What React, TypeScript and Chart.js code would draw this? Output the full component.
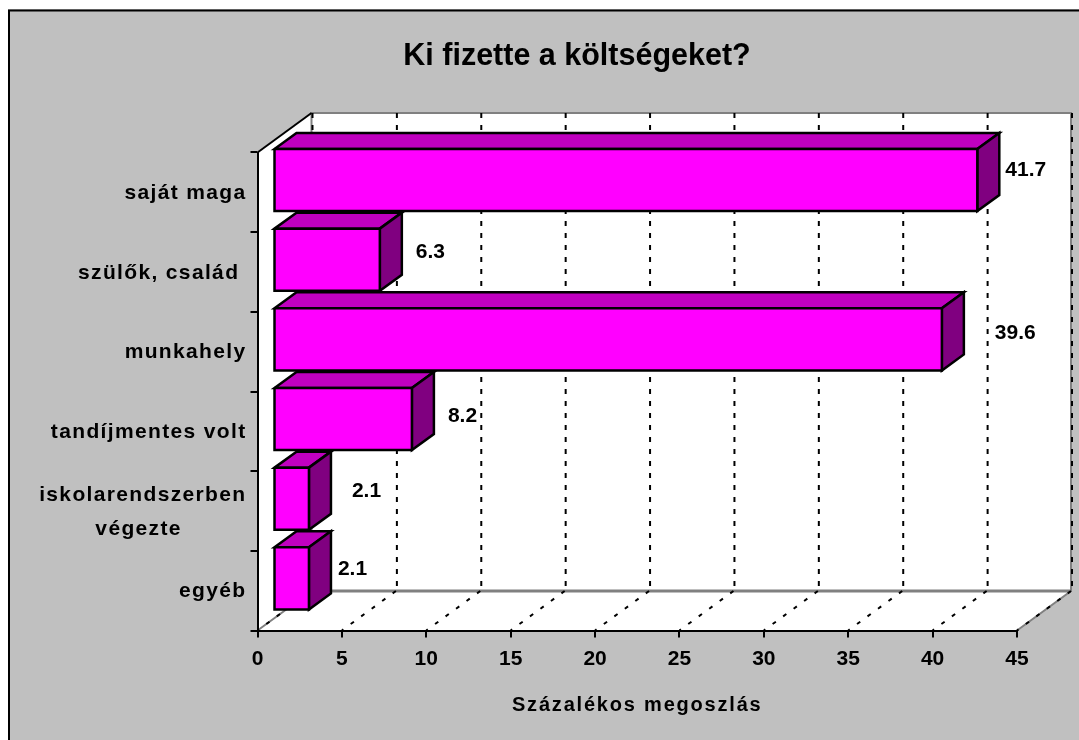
import React, { useEffect, useRef } from "react";
import { Chart, registerables } from "chart.js";

Chart.register(...registerables);

const categories = [
  "saját maga",
  "szülők, család ",
  "munkahely",
  "tandíjmentes volt",
  ["iskolarendszerben", "végezte         "],
  "egyéb",
];
const shares = [41.7, 6.3, 39.6, 8.2, 2.1, 2.1];
const axisTicks = [0, 5, 10, 15, 20, 25, 30, 35, 40, 45];
const titleText = "Ki fizette a költségeket?";
const axisTitle = "Százalékos megoszlás";

const FONT = "'Liberation Sans', Arial, sans-serif";
const WALL = { dx: 54, dy: -39.5 };
const BAR_INSET = { dx: 16, dy: -12.3 };
const BAR_DEPTH = { dx: 22, dy: -16 };
const LABEL_NUDGE = [
  [28, -10],
  [36, -7],
  [53, -6],
  [36, -3],
  [43, -7],
  [29, -9],
];
const EDGE = 2.5;

function poly(ctx: CanvasRenderingContext2D, pts: number[][], fill?: string, stroke?: string, lw = 2) {
  ctx.beginPath();
  pts.forEach((p, i) => (i ? ctx.lineTo(p[0], p[1]) : ctx.moveTo(p[0], p[1])));
  if (fill) {
    ctx.closePath();
    ctx.fillStyle = fill;
    ctx.fill();
  }
  if (stroke) {
    ctx.strokeStyle = stroke;
    ctx.lineWidth = lw;
    ctx.stroke();
  }
}

const spacing = (scale: any, labels: string, title: string) => {
  if (scale.__spaced) return;
  scale.__spaced = true;
  // the labels run to the left of the narrowed axis box, so its clip is dropped
  scale._computeLabelArea = () => undefined;
  const wrap = (fn: string, px: string) => {
    const orig = scale[fn].bind(scale);
    scale[fn] = (...args: any[]) => {
      const c = scale.ctx;
      c.letterSpacing = px;
      orig(...args);
      c.letterSpacing = "0px";
    };
  };
  wrap("drawLabels", labels);
  wrap("drawTitle", title);
};

const barBox = (el: any) => {
  const { x, y, base, height } = el.getProps(["x", "y", "base", "height"], true);
  return { l: base, r: x, t: y - height / 2, b: y + height / 2 };
};

const excelLook = {
  id: "excelLook",
  beforeDraw(chart: any) {
    const { ctx, scales, chartArea, width, height } = chart;
    spacing(scales.y, "1.35px", "0px");
    spacing(scales.x, "0px", "1.8px");
    ctx.save();
    ctx.fillStyle = "#c0c0c0";
    ctx.fillRect(0, 1, width, height);
    ctx.strokeStyle = "#000";
    ctx.lineWidth = 2;
    ctx.strokeRect(1, 2.5, width + 10, height + 10);

    const { left, right, top, bottom } = chartArea;
    const bx = WALL.dx;
    const by = WALL.dy;
    poly(
      ctx,
      [
        [left, top],
        [left + bx, top + by],
        [right + bx, top + by],
        [right + bx, bottom + by],
        [right, bottom],
        [left, bottom],
      ],
      "#fff",
    );
    // grey wall edges
    poly(ctx, [[left, bottom], [left + bx, bottom + by], [left + bx, top + by], [right + bx, top + by], [right + bx, bottom + by], [right, bottom]], undefined, "#808080");
    poly(ctx, [[left + bx, bottom + by], [right + bx, bottom + by]], undefined, "#808080", 3);
    poly(ctx, [[left, top], [left + bx, top + by]], undefined, "#000");

    // dashed gridlines on back wall and floor
    ctx.setLineDash([5, 7]);
    axisTicks.forEach((t) => {
      const x = scales.x.getPixelForValue(t);
      poly(ctx, [[x + bx + 1, top + by], [x + bx + 1, bottom + by]], undefined, "#000");
    });
    ctx.setLineDash([4, 9]);
    axisTicks.forEach((t) => {
      const x = scales.x.getPixelForValue(t);
      poly(ctx, [[x + bx, bottom + by], [x, bottom]], undefined, "#000");
    });
    ctx.restore();
  },
  beforeDatasetDraw(chart: any, args: any) {
    const { ctx } = chart;
    ctx.save();
    ctx.translate(BAR_INSET.dx, BAR_INSET.dy);
    ctx.lineJoin = "miter";
    args.meta.data.forEach((el: any) => {
      const { l, r, t, b } = barBox(el);
      const dx = BAR_DEPTH.dx;
      const dy = BAR_DEPTH.dy;
      poly(ctx, [[l, t], [l + dx, t + dy], [r + dx, t + dy], [r, t], [l, t]], "#c000c0", "#000", EDGE);
      poly(ctx, [[r, t], [r + dx, t + dy], [r + dx, b + dy], [r, b], [r, t]], "#800080", "#000", EDGE);
    });
  },
  afterDatasetDraw(chart: any, args: any) {
    const { ctx } = chart;
    args.meta.data.forEach((el: any) => {
      const { l, r, t, b } = barBox(el);
      poly(ctx, [[l, t], [r, t], [r, b], [l, b], [l, t]], undefined, "#000", EDGE);
    });
    ctx.restore();
  },
  afterDatasetsDraw(chart: any) {
    const { ctx } = chart;
    const meta = chart.getDatasetMeta(0);
    ctx.save();
    ctx.font = `bold 21px ${FONT}`;
    ctx.fillStyle = "#000";
    ctx.textAlign = "left";
    ctx.textBaseline = "middle";
    meta.data.forEach((el: any, i: number) => {
      const { x, y } = el.getProps(["x", "y"], true);
      ctx.fillText(
        shares[i].toFixed(1),
        x + BAR_INSET.dx + LABEL_NUDGE[i][0],
        y + BAR_INSET.dy + LABEL_NUDGE[i][1],
      );
    });
    ctx.restore();
  },
};

export default function App() {
  const ref = useRef<HTMLCanvasElement>(null);
  useEffect(() => {
    const chart = new Chart(ref.current!, {
      type: "bar",
      data: {
        labels: categories as any,
        datasets: [
          {
            data: shares,
            backgroundColor: "#ff00ff",
            borderWidth: 0,
            barPercentage: 0.78,
            categoryPercentage: 1,
            clip: false as any,
          },
        ],
      },
      plugins: [excelLook as any],
      options: {
        indexAxis: "y",
        responsive: false,
        animation: false,
        layout: { padding: { left: 129, right: 62, top: 0, bottom: 0 } },
        plugins: {
          legend: { display: false },
          tooltip: { enabled: false },
          title: {
            display: true,
            text: titleText,
            color: "#000",
            font: { family: FONT, size: 30.5, weight: "bold", lineHeight: 1.2 },
            padding: { top: 30, bottom: 77.9 },
          },
        },
        scales: {
          x: {
            type: "linear",
            min: 0,
            max: 45,
            afterFit(s: any) {
              s.height = 109.5;
            },
            ticks: {
              stepSize: 5,
              color: "#000",
              maxRotation: 0,
              autoSkip: false,
              padding: 9,
              font: { family: FONT, size: 21, weight: "bold" },
            },
            grid: { drawOnChartArea: false, drawTicks: true, tickLength: 7, color: "#000", lineWidth: 2 },
            border: { color: "#000", width: 2 },
            title: {
              display: true,
              text: axisTitle,
              color: "#000",
              padding: { top: 1, bottom: 23 },
              font: { family: FONT, size: 20, weight: "bold" },
            },
          },
          y: {
            type: "category",
            offset: true,
            afterFit(s: any) {
              s.width = 120.5;
            },
            ticks: {
              color: "#000",
              padding: 4,
              autoSkip: false,
              labelOffset: 1,
              font: { family: FONT, size: 21, weight: "bold", lineHeight: 34 / 21 },
            },
            grid: { offset: true, drawOnChartArea: false, drawTicks: true, tickLength: 7, color: "#000", lineWidth: 2 },
            border: { color: "#000", width: 2 },
          },
        },
      },
    } as any);
    return () => chart.destroy();
  }, []);
  return (
    <div style={{ position: "fixed", left: 8, top: 8, width: 1071, height: 732 }}>
      <canvas ref={ref} width={1071} height={732} style={{ display: "block" }} />
    </div>
  );
}
